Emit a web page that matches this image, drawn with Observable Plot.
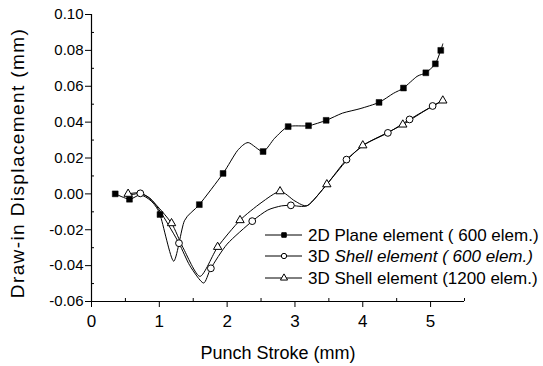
<!DOCTYPE html>
<html><head><meta charset="utf-8">
<script src="https://cdn.jsdelivr.net/npm/d3@7"></script>
<script src="https://cdn.jsdelivr.net/npm/@observablehq/plot@0.6"></script>
<style>
body{margin:0;background:#fff;}
#wrap{position:relative;width:543px;height:366px;font-family:"Liberation Sans",Arial,Helvetica,sans-serif;}
#legend{position:absolute;left:0;top:0;pointer-events:none;}
.ylab text{letter-spacing:1.4px;}
</style></head><body><div id="wrap"></div>
<script>
// 2D Plane element (600 elem.) — line path and marker points
const planeLineX = [0.35,0.56,0.72,0.88,1.01,1.21,1.37,1.59,1.94,2.15,2.31,2.53,2.70,2.90,3.20,3.46,3.70,3.96,4.24,4.45,4.60,4.80,4.93,5.07,5.15,5.18];
const planeLineY = [0.000,-0.003,-0.0005,-0.004,-0.0115,-0.0375,-0.015,-0.006,0.0114,0.024,0.0286,0.0236,0.031,0.0375,0.038,0.041,0.045,0.0475,0.051,0.056,0.059,0.0655,0.0675,0.0725,0.080,0.0836];
const planeMarkX = [0.35,0.56,1.01,1.59,1.94,2.53,2.90,3.20,3.46,4.24,4.60,4.93,5.07,5.15];
const planeMarkY = [0.000,-0.003,-0.0115,-0.006,0.0114,0.0236,0.0375,0.038,0.041,0.051,0.059,0.0675,0.0725,0.080];

// 3D Shell element (600 elem.)
const shell600LineX = [0.55,0.72,0.88,1.05,1.29,1.45,1.65,1.76,2.00,2.37,2.60,2.80,2.94,3.19,3.47,3.76,4.05,4.37,4.69,5.03,5.17];
const shell600LineY = [-0.001,0.0003,-0.003,-0.012,-0.0275,-0.040,-0.0497,-0.0415,-0.028,-0.0152,-0.009,-0.0067,-0.0064,-0.0064,0.0053,0.0191,0.028,0.034,0.0415,0.049,0.052];
const shell600MarkX = [0.72,1.29,1.76,2.37,2.94,3.76,4.37,4.69,5.03];
const shell600MarkY = [0.0003,-0.0275,-0.0415,-0.0152,-0.0064,0.0191,0.034,0.0415,0.049];

// 3D Shell element (1200 elem.)
const shell1200LineX = [0.54,0.72,0.90,1.18,1.35,1.60,1.86,2.19,2.50,2.78,3.00,3.19,3.47,3.76,4.00,4.30,4.59,4.90,5.18];
const shell1200LineY = [0.000,0.0005,-0.004,-0.0164,-0.030,-0.046,-0.0296,-0.0147,-0.005,0.0014,-0.004,-0.0064,0.0053,0.0185,0.027,0.033,0.0386,0.046,0.052];
const shell1200MarkX = [0.54,1.18,1.86,2.19,2.78,3.47,4.00,4.59,5.18];
const shell1200MarkY = [0.000,-0.0164,-0.0296,-0.0147,0.0014,0.0053,0.027,0.0386,0.052];

const xTicks = [0,1,2,3,4,5];
const xMinor = [0.5,1.5,2.5,3.5,4.5,5.5];
const yTicks = [-0.06,-0.04,-0.02,0.00,0.02,0.04,0.06,0.08,0.10];
const yMinor = [-0.05,-0.03,-0.01,0.01,0.03,0.05,0.07,0.09];
const xLabel = "Punch Stroke (mm)";
const yLabel = "Draw-in Displacement (mm)";
const legendLabels = [["2D Plane element ( 600 elem.)", ""], ["3D ", "Shell element ( 600 elem.)"], ["3D Shell element (1200 elem.)", ""]];
const legendSymbols = ["square", "circle", "triangle"];

const zip = (xs, ys) => xs.map((x, i) => ({x, y: ys[i]}));
const plane = zip(planeLineX, planeLineY), planeM = zip(planeMarkX, planeMarkY);
const s600 = zip(shell600LineX, shell600LineY), s600M = zip(shell600MarkX, shell600MarkY);
const s1200 = zip(shell1200LineX, shell1200LineY), s1200M = zip(shell1200MarkX, shell1200MarkY);

const font = '"Liberation Sans",Arial,Helvetica,sans-serif';
const curve = d3.curveCardinal.tension(0.3);
const chart = Plot.plot({
  width: 543, height: 366,
  marginLeft: 91, marginRight: 79, marginTop: 14, marginBottom: 65,
  style: {fontFamily: font, background: "#fff", color: "#000"},
  x: {domain: [0, 5.5]},
  y: {domain: [-0.06, 0.10]},
  marks: [
    Plot.axisX({ticks: xTicks, tickSize: 6, tickPadding: 7, fontSize: 17, label: null, tickFormat: d => String(d)}),
    Plot.axisX({ticks: xMinor, tickSize: -3, label: null, tickFormat: () => ""}),
    Plot.axisY({ticks: yTicks, tickSize: 6, tickPadding: 2, fontSize: 15, label: null, tickFormat: d => d.toFixed(2)}),
    Plot.axisY({ticks: yMinor, tickSize: -3, label: null, tickFormat: () => ""}),
    Plot.ruleX([0], {stroke: "#000", strokeWidth: 1.2}),
    Plot.ruleY([-0.06], {stroke: "#000", strokeWidth: 1.2}),
    Plot.line(plane, {x: "x", y: "y", curve, stroke: "#000", strokeWidth: 1}),
    Plot.line(s600, {x: "x", y: "y", curve, stroke: "#000", strokeWidth: 1}),
    Plot.line(s1200, {x: "x", y: "y", curve, stroke: "#000", strokeWidth: 1}),
    Plot.dot(planeM, {x: "x", y: "y", symbol: "square", r: 3.3, fill: "#000", stroke: "#000", strokeWidth: 0.5}),
    Plot.dot(s600M, {x: "x", y: "y", symbol: "circle", r: 3.4, fill: "#fff", stroke: "#000", strokeWidth: 1}),
    Plot.dot(s1200M, {x: "x", y: "y", symbol: "triangle", r: 3.1, fill: "#fff", stroke: "#000", strokeWidth: 1}),
    Plot.text([xLabel], {text: d => d, frameAnchor: "bottom", dy: 57, lineAnchor: "bottom", textAnchor: "middle", fontSize: 18, fill: "#000"}),
    Plot.text([yLabel], {text: d => d, frameAnchor: "left", dx: -68, dy: 5, rotate: -90, lineAnchor: "bottom", textAnchor: "middle", fontSize: 19, fill: "#000", className: "ylab"})
  ]
});
const wrap = document.getElementById("wrap");
wrap.appendChild(chart);

// Legend overlay
const ns = "http://www.w3.org/2000/svg";
const lg = document.createElementNS(ns, "svg");
lg.setAttribute("id", "legend");
lg.setAttribute("width", 543); lg.setAttribute("height", 366);
const rows = [235, 256, 278];
legendLabels.forEach((lab, i) => {
  const y = rows[i];
  const ln = document.createElementNS(ns, "line");
  ln.setAttribute("x1", 265); ln.setAttribute("x2", 302); ln.setAttribute("y1", y); ln.setAttribute("y2", y);
  ln.setAttribute("stroke", "#000"); ln.setAttribute("stroke-width", 1);
  lg.appendChild(ln);
  const sym = document.createElementNS(ns, "path");
  const type = {square: d3.symbolSquare, circle: d3.symbolCircle, triangle: d3.symbolTriangle}[legendSymbols[i]];
  sym.setAttribute("d", d3.symbol(type, legendSymbols[i] === "square" ? 20 : 22)());
  sym.setAttribute("transform", `translate(284,${y})`);
  sym.setAttribute("fill", i === 0 ? "#000" : "#fff");
  sym.setAttribute("stroke", "#000");
  lg.appendChild(sym);
  const t = document.createElementNS(ns, "text");
  t.setAttribute("x", 308); t.setAttribute("y", y); t.setAttribute("dy", "0.36em");
  t.setAttribute("font-size", 17); t.setAttribute("font-family", font);
  const a = document.createElementNS(ns, "tspan"); a.textContent = lab[0]; t.appendChild(a);
  if (lab[1]) { const b = document.createElementNS(ns, "tspan"); b.setAttribute("font-style", "italic"); b.textContent = lab[1]; t.appendChild(b); }
  lg.appendChild(t);
});
wrap.appendChild(lg);
</script></body></html>
